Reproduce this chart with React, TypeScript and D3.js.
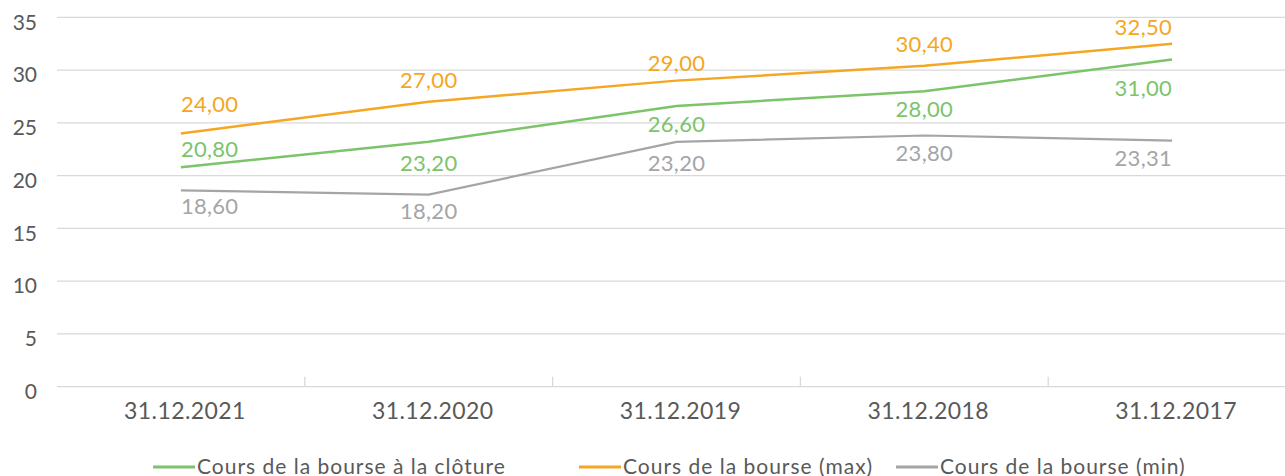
import React from "react";
import * as d3 from "d3";

const categories = ["31.12.2021", "31.12.2020", "31.12.2019", "31.12.2018", "31.12.2017"];
const closeValues = [20.8, 23.2, 26.6, 28.0, 31.0];
const maxValues = [24.0, 27.0, 29.0, 30.4, 32.5];
const minValues = [18.6, 18.2, 23.2, 23.8, 23.31];
const yTicks = [0, 5, 10, 15, 20, 25, 30, 35];
const seriesNames = [
  "Cours de la bourse à la clôture",
  "Cours de la bourse (max)",
  "Cours de la bourse (min)",
];

// layout / style
const W = 1285;
const H = 476;
const FONT = "Lato, 'Noto Sans', sans-serif";
const TEXT = "#595959";
const GRID = "#d9d9d9";
const colors = { close: "#7cc46a", max: "#f5a623", min: "#a5a5a8" };
// vertical nudges of the value labels (relative to point, px, baseline)
const closeDy = [-10, 29, 26, 26, 36];
const maxDy = [-21, -14, -10, -14, -9];
const minDy = [24, 24, 29, 25, 25];

const fmt = (v: number) => v.toFixed(2).replace(".", ",");

export default function App() {
  const x = d3.scaleBand<string>().domain(categories).range([57, 1296]).padding(0);
  const y = d3.scaleLinear().domain([0, 35]).range([386.7, 17.3]);
  const cx = (c: string) => (x(c) as number) + x.bandwidth() / 2;

  const line = d3
    .line<number>()
    .x((_, i) => cx(categories[i]))
    .y((d) => y(d));

  const series = [
    { key: "close", vals: closeValues, color: colors.close, width: 2.5, dy: closeDy },
    { key: "max", vals: maxValues, color: colors.max, width: 2.5, dy: maxDy },
    { key: "min", vals: minValues, color: colors.min, width: 2.2, dy: minDy },
  ];
  const drawOrder = [series[2], series[0], series[1]];

  const anchor = (i: number) => (i === 0 ? "start" : i === categories.length - 1 ? "end" : "middle");

  const legendItems = [
    { name: seriesNames[0], color: colors.close, x: 153 },
    { name: seriesNames[1], color: colors.max, x: 579 },
    { name: seriesNames[2], color: colors.min, x: 896 },
  ];

  return (
    <svg
      width={W}
      height={H}
      style={{ position: "absolute", left: 0, top: 0, background: "#fff" }}
      fontFamily={FONT}
    >
      {yTicks.map((t) => (
        <g key={t}>
          <line x1={57} x2={W} y1={y(t)} y2={y(t)} stroke={GRID} strokeWidth={1.3} />
          <text x={37} y={y(t) + 7} textAnchor="end" dominantBaseline="middle" fontSize={21} fill={TEXT}>
            {t}
          </text>
        </g>
      ))}
      {categories.slice(1).map((c) => (
        <line key={c} x1={x(c)} x2={x(c)} y1={y(0)} y2={y(0) - 10} stroke={GRID} strokeWidth={1.3} />
      ))}
      {categories.map((c) => (
        <text key={c} x={cx(c) + 4} y={419} textAnchor="middle" fontSize={23} letterSpacing={0.4} fill={TEXT}>
          {c}
        </text>
      ))}
      {drawOrder.map((s) => (
        <path key={s.key} d={line(s.vals) || ""} fill="none" stroke={s.color} strokeWidth={s.width} />
      ))}
      {series.map((s) =>
        s.vals.map((v, i) => (
          <text
            key={s.key + i}
            x={cx(categories[i])}
            y={y(v) + s.dy[i]}
            textAnchor={anchor(i)}
            fontSize={22}
            letterSpacing={0.3}
            fill={s.color}
          >
            {fmt(v)}
          </text>
        ))
      )}
      {legendItems.map((l) => (
        <g key={l.name}>
          <line x1={l.x} x2={l.x + 42} y1={467} y2={467} stroke={l.color} strokeWidth={3} />
          <text x={l.x + 44} y={474} fontSize={21} letterSpacing={1} fill={TEXT}>
            {l.name}
          </text>
        </g>
      ))}
    </svg>
  );
}
